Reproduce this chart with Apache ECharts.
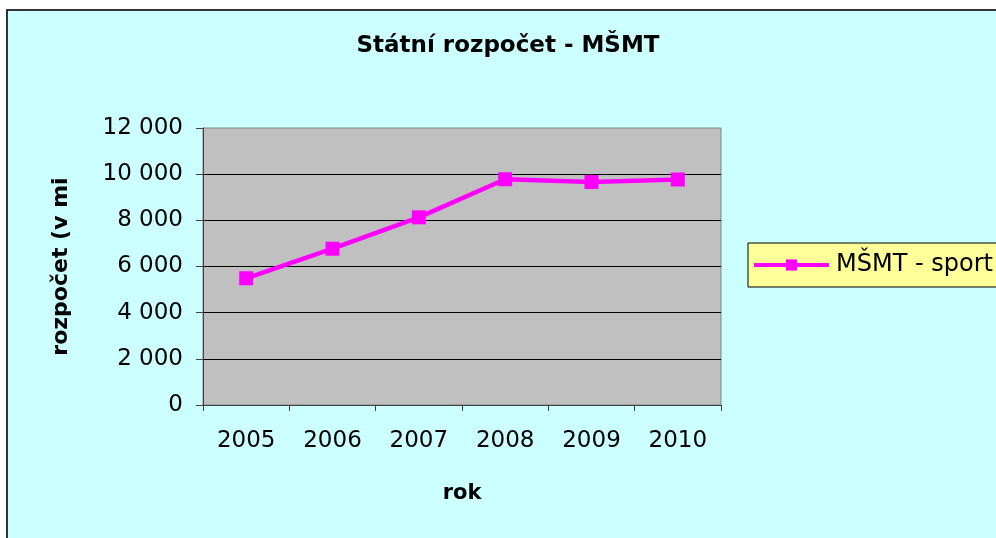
<!DOCTYPE html>
<html>
<head>
<meta charset="utf-8">
<script src="https://cdn.jsdelivr.net/npm/echarts@6/dist/echarts.min.js"></script>
<style>
  html, body { margin: 0; padding: 0; background: #ffffff; }
  #frame {
    position: absolute; left: 6px; top: 9px; width: 1000px; height: 540px;
    background: #CCFFFF; border-left: 2px solid #333333; border-top: 2px solid #333333;
  }
  #chart { position: absolute; left: 0; top: 0; width: 996px; height: 538px; }
</style>
</head>
<body>
<div id="frame"></div>
<div id="chart"></div>
<script>
const years = ['2005', '2006', '2007', '2008', '2009', '2010'];
const sport = [5490, 6770, 8130, 9780, 9660, 9770];
const seriesName = 'MŠMT - sport';

const FONT = 'DejaVu Sans';
const chart = echarts.init(document.getElementById('chart'));

const fmt = (v) => String(v).replace(/\B(?=(\d{3})+(?!\d))/g, ' ');

chart.setOption({
  backgroundColor: 'transparent',
  animation: false,
  title: {
    text: 'Státní rozpočet - MŠMT',
    left: 508,
    top: 35,
    textAlign: 'center',
    padding: 0,
    textStyle: { fontFamily: FONT, fontSize: 23, fontWeight: 'bold', color: '#000' }
  },
  legend: {
    data: [seriesName],
    orient: 'vertical',
    left: 748,
    top: 243,
    padding: [10, 40, 10, 4],
    itemWidth: 75,
    itemHeight: 14,
    backgroundColor: '#FFFF99',
    borderColor: '#000',
    borderWidth: 1,
    lineStyle: { width: 4, color: '#FF00FF' },
    textStyle: { fontFamily: FONT, fontSize: 24, color: '#000', padding: [0, 0, 0, 2] }
  },
  grid: {
    left: 203,
    right: 275,
    top: 128,
    bottom: 133,
    show: true,
    backgroundColor: '#C0C0C0',
    borderColor: '#808080',
    borderWidth: 1
  },
  xAxis: {
    type: 'category',
    data: years,
    boundaryGap: true,
    name: 'rok',
    nameLocation: 'middle',
    nameGap: 78,
    nameTextStyle: { fontFamily: FONT, fontSize: 21, fontWeight: 'bold', color: '#000' },
    axisLine: { lineStyle: { color: '#404040', width: 1 } },
    axisTick: { show: true, length: 6, lineStyle: { color: '#404040' } },
    axisLabel: { fontFamily: FONT, fontSize: 23, color: '#000', margin: 25, interval: 0 },
    splitLine: { show: false }
  },
  yAxis: {
    type: 'value',
    min: 0,
    max: 12000,
    interval: 2000,
    name: 'rozpočet (v mi',
    nameLocation: 'middle',
    nameGap: 131,
    nameTextStyle: { fontFamily: FONT, fontSize: 22, fontWeight: 'bold', color: '#000' },
    axisLine: { show: true, lineStyle: { color: '#404040', width: 1 } },
    axisTick: { show: true, length: 7, lineStyle: { color: '#404040' } },
    axisLabel: { fontFamily: FONT, fontSize: 23, color: '#000', margin: 20, formatter: fmt },
    splitLine: { show: true, showMaxLine: false, lineStyle: { color: '#000', width: 1 } }
  },
  series: [{
    name: seriesName,
    type: 'line',
    data: sport,
    symbol: 'rect',
    symbolSize: 14,
    lineStyle: { color: '#FF00FF', width: 4.5 },
    itemStyle: { color: '#FF00FF' }
  }]
});
</script>
</body>
</html>
